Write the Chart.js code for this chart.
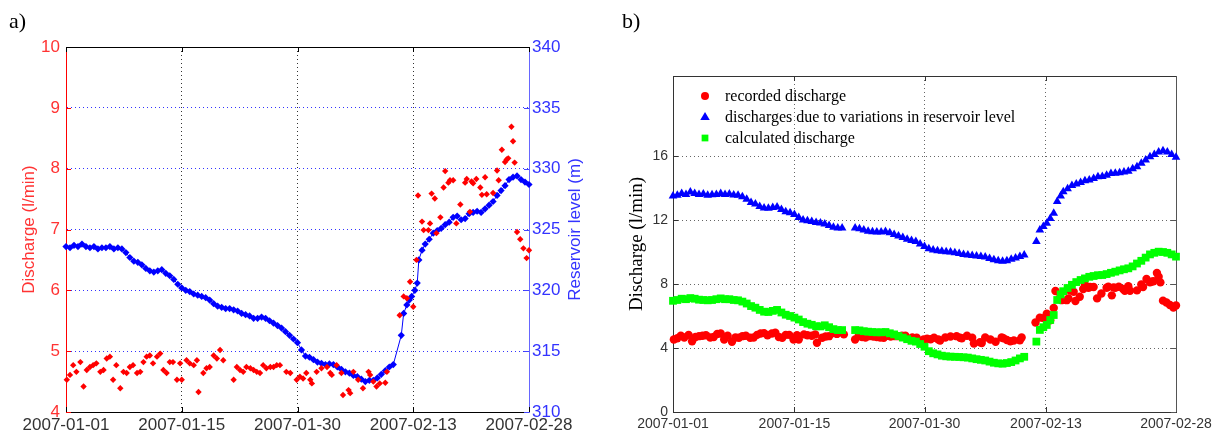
<!DOCTYPE html>
<html>
<head>
<meta charset="utf-8">
<script src="https://cdn.jsdelivr.net/npm/chart.js@4.4.1/dist/chart.umd.min.js"></script>
<style>
  body { margin: 0; background: #fff; }
  #wrap { position: relative; width: 1219px; height: 437px; overflow: hidden; }
  canvas { position: absolute; top: 0; }
  .tag { position: absolute; font: 22px 'Liberation Serif', 'Times New Roman', serif; line-height: 22px; color: #000; }
</style>
</head>
<body>
<div id="wrap">
  <canvas id="chart-a" width="610" height="437" style="left:0"></canvas>
  <canvas id="chart-b" width="609" height="437" style="left:610px"></canvas>
  <div class="tag" style="left:9px;top:10px">a)</div>
  <div class="tag" style="left:622px;top:10px">b)</div>
</div>
<script>
/*********************************
 * DATA                          *
 *********************************/

// x values are days since 2007-01-01
const dateLabels = ['2007-01-01', '2007-01-15', '2007-01-30', '2007-02-13', '2007-02-28'];
const tickDaysA = [0, 14.5, 29, 43.5, 58];
const tickDaysB = [0, 14, 29, 43, 58];

// recorded discharge (l/min)
const dischargeDays = [0.1, 0.5, 0.9, 1.3, 1.8, 2.2, 2.6, 3.0, 3.4, 3.8, 4.3, 4.7, 5.1, 5.5, 5.9, 6.3, 6.8, 7.2, 7.6, 8.0,
  8.4, 8.9, 9.3, 9.7, 10.1, 10.5, 10.9, 11.4, 11.8, 12.2, 12.6, 13.0, 13.4, 13.9, 14.3, 14.5, 15.1, 15.5, 16.0, 16.4,
  16.6, 17.2, 17.6, 18.0, 18.5, 18.9, 19.3, 19.7,
  21.0, 21.4, 21.8, 22.2, 22.6, 23.1, 23.5, 23.9, 24.3, 24.7, 25.1, 25.6, 26.0, 26.4,
  26.8, 27.6, 28.1, 28.9, 29.3, 29.7, 30.1, 30.6, 30.8, 31.4, 32.0, 32.7, 33.1, 33.3, 33.9, 34.5, 34.7, 35.4, 35.6, 36.0,
  36.6, 37.2, 37.9, 38.1, 38.5, 38.9, 39.3, 40.0, 40.2,
  41.8, 42.3, 42.7, 43.1, 43.5, 43.9, 44.1, 44.6, 44.8, 45.4, 45.6, 45.8, 46.2, 46.4, 46.9, 47.3, 47.5, 47.9, 48.1, 48.5,
  48.9, 49.4, 50.0, 50.2, 50.6, 50.8, 51.0, 51.4, 51.9, 52.1, 52.5, 52.7, 53.5, 54.0, 54.2, 54.6, 55.0, 55.2, 55.4, 55.8,
  56.0, 56.2, 56.5, 56.9, 57.3, 57.7, 58.0];
const discharge = [4.53, 4.61, 4.77, 4.66, 4.82, 4.42, 4.69, 4.74, 4.77, 4.80, 4.66, 4.69, 4.88, 4.91, 4.53, 4.77, 4.39, 4.66, 4.64, 4.74,
  4.77, 4.64, 4.66, 4.82, 4.91, 4.93, 4.80, 4.91, 4.96, 4.69, 4.64, 4.82, 4.82, 4.53, 4.80, 4.53, 4.85, 4.80, 4.77, 4.85,
  4.33, 4.64, 4.72, 4.74, 4.93, 4.88, 5.02, 4.85,
  4.53, 4.74, 4.69, 4.66, 4.74, 4.72, 4.69, 4.66, 4.64, 4.77, 4.72, 4.74, 4.74, 4.77,
  4.77, 4.66, 4.64, 4.53, 4.58, 4.55, 4.64, 4.53, 4.47, 4.66, 4.72, 4.74, 4.64, 4.61, 4.77, 4.64, 4.28, 4.36, 4.31, 4.66,
  4.53, 4.39, 4.66, 4.61, 4.50, 4.42, 4.47, 4.48, 4.66,
  5.59, 5.90, 5.87, 6.14, 5.73, 6.50, 7.56, 7.13, 6.99, 6.99, 7.10, 7.59, 7.51, 6.94, 7.20, 7.69, 7.96, 7.77, 7.81, 7.81,
  7.10, 7.41, 7.77, 7.83, 7.29, 7.79, 7.76, 7.83, 7.69, 7.57, 7.86, 7.58, 7.60, 7.97, 7.81, 8.31, 8.11, 8.15, 8.17, 8.69,
  8.45, 8.10, 6.96, 6.84, 6.69, 6.53, 6.66];

// reservoir level (m)
const reservoirDays = [0, 0.5, 1, 1.5, 2, 2.5, 3, 3.5, 4, 4.5, 5, 5.5, 6, 6.5, 7, 7.5, 8, 8.5, 9, 9.5,
  10, 10.5, 11, 11.5, 12, 12.5, 13, 13.5, 14, 14.5, 15, 15.5, 16, 16.5, 17, 17.5, 18, 18.5, 19, 19.5,
  20, 20.5, 21, 21.5, 22, 22.5, 23, 23.5, 24, 24.5, 25, 25.5, 26, 26.5, 27, 27.5, 28, 28.5, 29, 29.5,
  30, 30.5, 31, 31.5, 32, 32.5, 33, 33.5, 34, 34.5, 35, 35.5, 36, 36.5, 37, 37.5, 38, 38.5, 39, 39.5,
  40, 40.5, 41,
  42, 42.3, 42.7, 43, 43.3, 43.7, 44, 44.2, 44.6, 45, 45.5, 46, 46.5, 47, 47.5, 48, 48.5, 49, 49.5, 50,
  50.5, 51, 51.5, 52, 52.5, 53, 53.5, 54, 54.5, 55, 55.5, 56, 56.5, 57, 57.5, 58];
const reservoirLevel = [323.6, 323.5, 323.7, 323.6, 323.8, 323.6, 323.5, 323.6, 323.4, 323.5, 323.5, 323.6, 323.4, 323.5, 323.4, 323.1, 322.7, 322.4, 322.3, 322.1,
  321.8, 321.6, 321.5, 321.6, 321.7, 321.4, 321.2, 320.9, 320.5, 320.2, 320.0, 319.9, 319.7, 319.6, 319.5, 319.4, 319.2, 318.9, 318.7, 318.6,
  318.5, 318.5, 318.4, 318.3, 318.1, 318.0, 317.9, 317.7, 317.7, 317.8, 317.7, 317.5, 317.3, 317.1, 316.9, 316.6, 316.3, 316.0, 315.7, 315.1,
  314.6, 314.5, 314.3, 314.1, 314.0, 313.9, 313.95, 313.9, 313.7, 313.5, 313.3, 313.2, 313.0, 312.9, 312.7, 312.5, 312.6, 312.6, 312.8, 313.1,
  313.4, 313.7, 313.9,
  316.3, 318.1, 318.8, 319.2, 319.5, 320.0, 320.6, 322.5, 323.3, 323.8, 324.2, 324.7, 324.9, 325.1, 325.4, 325.6, 326.0, 326.1, 325.8, 325.9,
  326.3, 326.4, 326.5, 326.4, 326.7, 327.0, 327.3, 327.8, 328.2, 328.6, 329.1, 329.3, 329.4, 329.1, 328.9, 328.7];

// panel b: reservoir-driven and calculated discharge (l/min)
const levelDays = [0, 0.5, 1, 1.5, 2, 2.5, 3, 3.5, 4, 4.5, 5, 5.5, 6, 6.5, 7, 7.5, 8, 8.5, 9, 9.5,
  10, 10.5, 11, 11.5, 12, 12.5, 13, 13.5, 14, 14.5, 15, 15.5, 16, 16.5, 17, 17.5, 18, 18.5, 19, 19.5,
  21, 21.5, 22, 22.5, 23, 23.5, 24, 24.5, 25, 25.5, 26, 26.5, 27, 27.5, 28, 28.5, 29, 29.5, 30, 30.5,
  31, 31.5, 32, 32.5, 33, 33.5, 34, 34.5, 35, 35.5, 36, 36.5, 37, 37.5, 38, 38.5, 39, 39.5, 40, 40.5,
  41.9, 42.3, 42.7, 43.1, 43.5, 43.9, 44.3, 44.7, 45,
  45.5, 46, 46.5, 47, 47.5, 48, 48.5, 49, 49.5, 50, 50.5, 51, 51.5, 52, 52.5, 53, 53.5, 54, 54.5, 55,
  55.5, 56, 56.5, 57, 57.5, 58];
const levelDischarge = [13.5, 13.55, 13.65, 13.6, 13.75, 13.65, 13.6, 13.62, 13.55, 13.58, 13.6, 13.66, 13.6, 13.62, 13.57, 13.55, 13.45, 13.3, 13.1, 13.0,
  12.85, 12.75, 12.73, 12.78, 12.82, 12.65, 12.52, 12.45, 12.35, 12.15, 12.0, 11.95, 11.9, 11.85, 11.82, 11.75, 11.65, 11.55, 11.5, 11.5,
  11.5, 11.45, 11.38, 11.3, 11.27, 11.25, 11.25, 11.28, 11.2, 11.1, 11.0, 10.9, 10.8, 10.72, 10.65, 10.5, 10.35, 10.2, 10.12, 10.08,
  10.05, 10.02, 10.0, 9.95, 9.9, 9.85, 9.82, 9.78, 9.75, 9.72, 9.68, 9.6, 9.52, 9.45, 9.42, 9.45, 9.55, 9.62, 9.72, 9.82,
  10.65, 11.38, 11.6, 11.8, 12.1, 12.42, 13.15, 13.5, 13.77,
  13.95, 14.15, 14.25, 14.35, 14.45, 14.5, 14.6, 14.7, 14.72, 14.8, 14.9, 14.92, 14.95, 15.0, 15.05, 15.2, 15.33, 15.55, 15.75, 15.95,
  16.1, 16.25, 16.33, 16.25, 16.1, 15.92];
const calcDischarge = [6.95, 7.0, 7.08, 7.05, 7.12, 7.08, 7.02, 7.0, 6.98, 7.0, 7.05, 7.1, 7.05, 7.05, 7.0, 6.98, 6.9, 6.78, 6.62, 6.52,
  6.38, 6.27, 6.25, 6.32, 6.38, 6.22, 6.08, 6.0, 5.9, 5.78, 5.62, 5.52, 5.45, 5.36, 5.35, 5.42, 5.3, 5.18, 5.12, 5.12,
  5.12, 5.1, 5.05, 5.02, 5.0, 4.98, 4.98, 5.0, 4.92, 4.85, 4.75, 4.65, 4.55, 4.45, 4.4, 4.25, 4.08, 3.8, 3.67, 3.6,
  3.52, 3.48, 3.46, 3.45, 3.44, 3.42, 3.4, 3.35, 3.3, 3.26, 3.22, 3.15, 3.08, 3.04, 3.02, 3.06, 3.12, 3.22, 3.35, 3.45,
  4.4, 5.13, 5.3, 5.44, 5.75, 6.06, 7.0, 7.35, 7.55,
  7.75, 7.95, 8.12, 8.25, 8.35, 8.45, 8.5, 8.55, 8.56, 8.62, 8.7, 8.77, 8.85, 8.92, 8.98, 9.1, 9.28, 9.45, 9.65, 9.85,
  9.95, 10.02, 10.0, 9.95, 9.85, 9.71];

const legendNames = ['recorded discharge', 'discharges due to variations in reservoir level', 'calculated discharge'];

/*********************************
 * HELPERS                       *
 *********************************/

const sans = "'Liberation Sans', Arial, sans-serif";
const serif = "'Liberation Serif', 'Times New Roman', serif";
const clear = 'rgba(0,0,0,0)';

function points(days, vals) {
  return days.map((d, i) => ({ x: d, y: vals[i] }));
}

// grid line colour, hidden where it would sit on the frame
function gridColor(color, ends) {
  return c => (c.tick && ends.includes(c.tick.value)) ? clear : color;
}

// inward tick marks + top/right frame lines (matlab look)
const axisFrame = {
  id: 'axisFrame',
  beforeDatasetsDraw(chart, args, opts) {
    const { ctx, chartArea: a } = chart;
    ctx.save();
    ctx.lineWidth = 1;
    opts.marks.forEach(m => {
      const s = chart.scales[m.axis];
      ctx.strokeStyle = m.color;
      ctx.beginPath();
      s.ticks.forEach(t => {
        const p = Math.round(s.getPixelForValue(t.value)) + 0.5;
        if (m.side === 'bottom') { ctx.moveTo(p, a.bottom); ctx.lineTo(p, a.bottom - 5); }
        if (m.side === 'top') { ctx.moveTo(p, a.top); ctx.lineTo(p, a.top + 5); }
        if (m.side === 'left') { ctx.moveTo(a.left, p); ctx.lineTo(a.left + 5, p); }
        if (m.side === 'right') { ctx.moveTo(a.right, p); ctx.lineTo(a.right - 5, p); }
      });
      ctx.stroke();
    });
    const top = Math.round(a.top) + 0.5;
    ctx.strokeStyle = opts.top;
    ctx.beginPath();
    ctx.moveTo(a.left, top);
    ctx.lineTo(a.right, top);
    ctx.stroke();
    if (opts.right) {
      const r = Math.round(a.right) + 0.5;
      ctx.strokeStyle = opts.right;
      ctx.beginPath();
      ctx.moveTo(r, a.top);
      ctx.lineTo(r, a.bottom);
      ctx.stroke();
    }
    // right axis title, reading bottom to top like the left one
    if (opts.rightTitle) {
      const t = opts.rightTitle;
      ctx.translate(t.x, (a.top + a.bottom) / 2);
      ctx.rotate(-Math.PI / 2);
      ctx.font = t.font;
      ctx.fillStyle = t.color;
      ctx.textAlign = 'center';
      ctx.textBaseline = 'middle';
      ctx.fillText(t.text, 0, 0);
    }
    ctx.restore();
  }
};

function marker(ctx, style, x, y, r) {
  ctx.beginPath();
  if (style === 'circle') {
    ctx.arc(x, y, r, 0, Math.PI * 2);
  } else if (style === 'triangle') {
    ctx.moveTo(x, y - r);
    ctx.lineTo(x + r * 0.95, y + r * 0.6);
    ctx.lineTo(x - r * 0.95, y + r * 0.6);
    ctx.closePath();
  } else {
    ctx.rect(x - r * 0.75, y - r * 0.75, r * 1.5, r * 1.5);
  }
  ctx.fill();
}

// legend drawn inside the plot area, top left
const insideLegend = {
  id: 'insideLegend',
  afterDatasetsDraw(chart) {
    const { ctx, chartArea: a } = chart;
    const sizes = [4, 5, 4.5];
    ctx.save();
    ctx.font = '16px ' + serif;
    ctx.textBaseline = 'middle';
    chart.data.datasets.forEach((ds, i) => {
      const y = a.top + 20 + i * 21;
      ctx.fillStyle = ds.backgroundColor;
      marker(ctx, ds.pointStyle, a.left + 32, y, sizes[i]);
      ctx.fillStyle = '#000';
      ctx.fillText(legendNames[i], a.left + 52, y + 1);
    });
    ctx.restore();
  }
};

/*********************************
 * CHART A                       *
 *********************************/

const chartA = new Chart(document.getElementById('chart-a'), {
  type: 'scatter',
  data: {
    datasets: [{
      label: 'Discharge',
      data: points(dischargeDays, discharge),
      yAxisID: 'y',
      pointStyle: 'rectRot',
      pointRadius: 3.2,
      borderWidth: 0,
      backgroundColor: '#ff0000',
      borderColor: '#ff0000',
      clip: false
    }, {
      label: 'Reservoir level',
      data: points(reservoirDays, reservoirLevel),
      yAxisID: 'y2',
      showLine: true,
      borderWidth: 1,
      borderColor: '#0000ff',
      backgroundColor: '#0000ff',
      pointStyle: 'rectRot',
      pointRadius: 3.6,
      pointBorderWidth: 0,
      clip: false
    }]
  },
  options: {
    responsive: false,
    animation: false,
    layout: { padding: { top: 47, left: 0, right: 0, bottom: 0 } },
    plugins: {
      legend: { display: false },
      tooltip: { enabled: false },
      axisFrame: {
        top: '#000',
        rightTitle: { text: 'Reservoir level (m)', x: 575, color: '#3333ff', font: '17px ' + sans },
        marks: [
          { axis: 'x', side: 'bottom', color: '#000' },
          { axis: 'x', side: 'top', color: '#000' },
          { axis: 'y', side: 'left', color: '#ff0000' },
          { axis: 'y2', side: 'right', color: '#4444ff' }
        ]
      }
    },
    scales: {
      x: {
        type: 'linear',
        min: 0,
        max: 58,
        afterBuildTicks: s => { s.ticks = tickDaysA.map(v => ({ value: v })); },
        afterFit: s => { s.height = 25; },
        ticks: {
          callback: (v, i) => dateLabels[i],
          font: { family: sans, size: 17 },
          color: '#333',
          padding: 3,
          maxRotation: 0,
          autoSkip: false
        },
        grid: { color: gridColor('#333', [0, 58]), drawTicks: false },
        border: { color: '#000', dash: [1, 3] }
      },
      y: {
        position: 'left',
        min: 4,
        max: 10,
        afterFit: s => { s.width = 66; },
        ticks: { stepSize: 1, font: { family: sans, size: 17 }, color: '#ff3333', padding: 6 },
        grid: { color: gridColor('#3333ff', [4, 10]), drawTicks: false },
        border: { color: '#ff0000', dash: [1, 3] },
        title: {
          display: true,
          text: 'Discharge (l/min)',
          color: '#ff3333',
          font: { family: sans, size: 17 },
          padding: { top: 19, bottom: 0 }
        }
      },
      y2: {
        position: 'right',
        min: 310,
        max: 340,
        afterFit: s => { s.width = 81; },
        ticks: { stepSize: 5, font: { family: sans, size: 17 }, color: '#3333ff', padding: 3 },
        grid: { display: false, drawTicks: false },
        border: { color: '#6666ff' }
      }
    }
  },
  plugins: [axisFrame]
});

/*********************************
 * CHART B                       *
 *********************************/

const chartB = new Chart(document.getElementById('chart-b'), {
  type: 'scatter',
  data: {
    datasets: [{
      label: legendNames[0],
      data: points(dischargeDays, discharge),
      pointStyle: 'circle',
      pointRadius: 4.2,
      borderWidth: 0,
      backgroundColor: '#ff0000',
      borderColor: '#ff0000',
      order: 3,
      clip: false
    }, {
      label: legendNames[1],
      data: points(levelDays, levelDischarge),
      pointStyle: 'triangle',
      pointRadius: 5,
      borderWidth: 0,
      backgroundColor: '#0000ff',
      borderColor: '#0000ff',
      order: 2,
      clip: false
    }, {
      label: legendNames[2],
      data: points(levelDays, calcDischarge),
      pointStyle: 'rect',
      pointRadius: 5.5,
      borderWidth: 0,
      backgroundColor: '#00ff00',
      borderColor: '#00ff00',
      order: 1,
      clip: false
    }]
  },
  options: {
    responsive: false,
    animation: false,
    layout: { padding: { top: 76, left: 0, right: 43, bottom: 0 } },
    plugins: {
      legend: { display: false },
      tooltip: { enabled: false },
      axisFrame: {
        top: '#333',
        right: '#555',
        marks: [
          { axis: 'x', side: 'bottom', color: '#333' },
          { axis: 'x', side: 'top', color: '#333' },
          { axis: 'y', side: 'left', color: '#333' },
          { axis: 'y', side: 'right', color: '#555' }
        ]
      }
    },
    scales: {
      x: {
        type: 'linear',
        min: 0,
        max: 58,
        afterBuildTicks: s => { s.ticks = tickDaysB.map(v => ({ value: v })); },
        afterFit: s => { s.height = 25; },
        ticks: {
          callback: (v, i) => dateLabels[i],
          font: { family: sans, size: 14 },
          color: '#333',
          padding: 4,
          maxRotation: 0,
          autoSkip: false
        },
        grid: { color: gridColor('#666', [0, 58]), drawTicks: false },
        border: { color: '#333', dash: [1, 3] }
      },
      y: {
        min: 0,
        max: 21,
        afterBuildTicks: s => { s.ticks = [0, 4, 8, 12, 16].map(v => ({ value: v })); },
        afterFit: s => { s.width = 63; },
        ticks: { font: { family: sans, size: 14 }, color: '#333', padding: 5 },
        grid: { color: gridColor('#666', [0]), drawTicks: false },
        border: { color: '#333', dash: [1, 3] },
        title: {
          display: true,
          text: 'Discharge (l/min)',
          color: '#000',
          font: { family: serif, size: 19 },
          padding: { top: 16, bottom: 0 }
        }
      }
    }
  },
  plugins: [axisFrame, insideLegend]
});
</script>
</body>
</html>
